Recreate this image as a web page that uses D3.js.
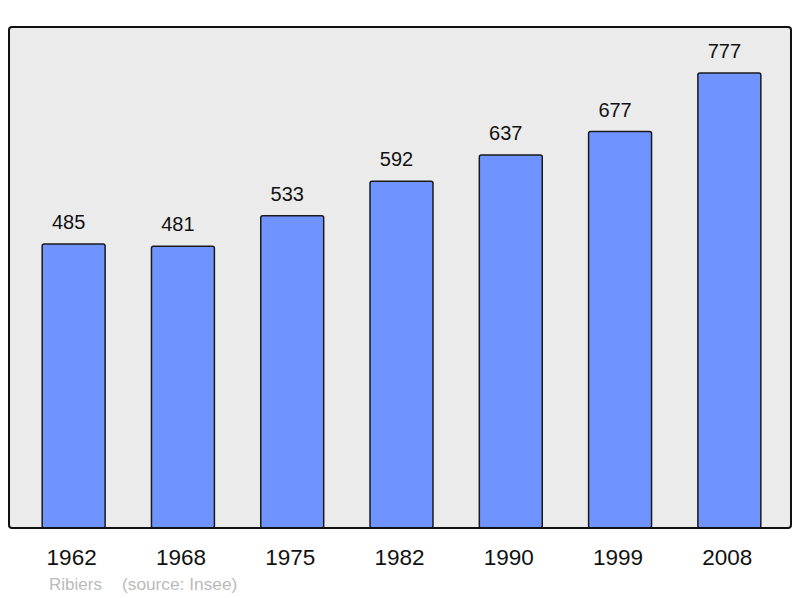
<!DOCTYPE html>
<html>
<head>
	<meta charset="utf-8">
	<script src="https://d3js.org/d3.v7.min.js"></script>
	<style>
		body { margin: 0; background: #fff; }
		svg text { font-family: "Liberation Sans", Arial, sans-serif; }
	</style>
</head>
<body>
	<svg></svg>
	<script>
		var years = ["1962", "1968", "1975", "1982", "1990", "1999", "2008"];
		var population = [485, 481, 533, 592, 637, 677, 777];

		var width = 800;
		var height = 598;

		var svg = d3.select("svg")
			.attr("width", width)
			.attr("height", height);

		// frame of the plot
		var frameLeft = 9, frameTop = 27, frameRight = 791, frameBottom = 528;

		svg.append("rect")
			.attr("x", frameLeft)
			.attr("y", frameTop)
			.attr("width", frameRight - frameLeft)
			.attr("height", frameBottom - frameTop)
			.attr("rx", 3)
			.attr("fill", "#ebebeb")
			.attr("stroke", "none");

		var x = d3.scaleBand()
			.domain(years)
			.range([19, 784])
			.paddingInner(0.424)
			.paddingOuter(0.212);

		var y = d3.scaleLinear()
			.domain([0, 855.5])
			.range([frameBottom, frameTop]);

		var data = years.map(function(d, i) { return { year: d, value: population[i] }; });

		svg.selectAll(".bar")
			.data(data)
			.enter().append("rect")
			.attr("class", "bar")
			.attr("x", function(d) { return x(d.year); })
			.attr("y", function(d) { return y(d.value); })
			.attr("width", x.bandwidth())
			.attr("height", function(d) { return frameBottom - y(d.value); })
			.attr("rx", 2)
			.attr("fill", "#7094ff")
			.attr("stroke", "#1a1a1a")
			.attr("stroke-width", 1.5);

		// value labels (sit a little left of the bar centre, as in the original)
		svg.selectAll(".val")
			.data(data)
			.enter().append("text")
			.attr("class", "val")
			.attr("x", function(d) { return x(d.year) + x.bandwidth() / 2 - 5; })
			.attr("y", function(d) { return y(d.value) - 15; })
			.attr("text-anchor", "middle")
			.attr("font-size", 20)
			.attr("fill", "#111")
			.text(function(d) { return d.value; });

		// frame border drawn on top so bars tuck under it
		svg.append("rect")
			.attr("x", frameLeft)
			.attr("y", frameTop)
			.attr("width", frameRight - frameLeft)
			.attr("height", frameBottom - frameTop)
			.attr("rx", 3)
			.attr("fill", "none")
			.attr("stroke", "#111")
			.attr("stroke-width", 2);

		// year labels
		svg.selectAll(".year")
			.data(years)
			.enter().append("text")
			.attr("class", "year")
			.attr("x", function(d) { return x(d) + x.bandwidth() / 2 - 2; })
			.attr("y", 565)
			.attr("text-anchor", "middle")
			.attr("font-size", 22.5)
			.attr("fill", "#111")
			.text(function(d) { return d; });

		svg.append("text")
			.attr("x", 49)
			.attr("y", 590)
			.attr("font-size", 17)
			.attr("fill", "#bbbbbb")
			.text("Ribiers");

		svg.append("text")
			.attr("x", 122)
			.attr("y", 590)
			.attr("font-size", 17.3)
			.attr("fill", "#bbbbbb")
			.text("(source: Insee)");
	</script>
</body>
</html>
